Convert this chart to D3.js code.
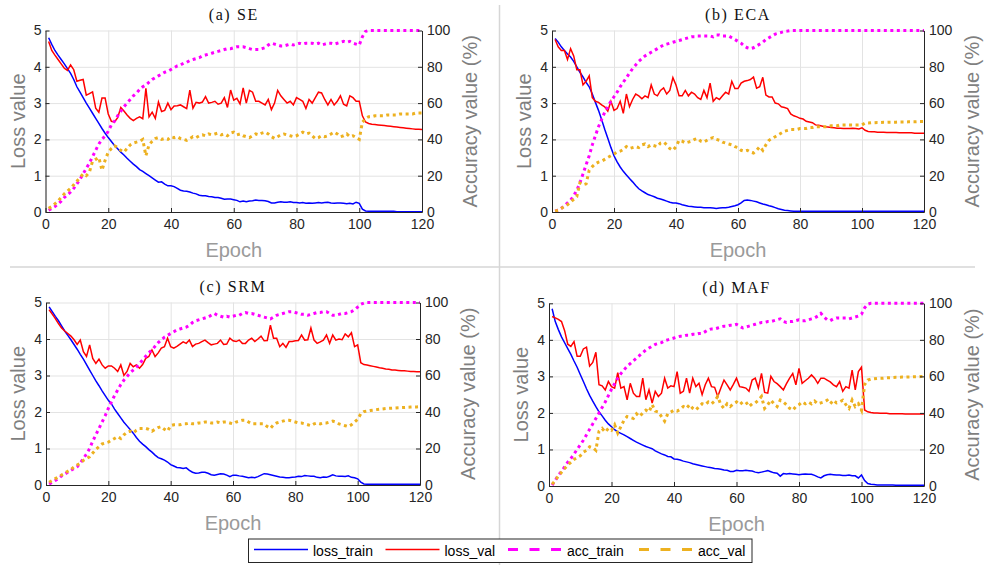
<!DOCTYPE html>
<html>
<head>
<meta charset="utf-8">
<script src="https://cdn.jsdelivr.net/npm/d3@7"></script>
<style>
  body { margin: 0; background: #fff; }
  svg { display: block; }
</style>
</head>
<body>
<script>
const wid = 984, hei = 565;

// epochs 1..120
const epochs = d3.range(1, 121);
const xTicks = [0, 20, 40, 60, 80, 100, 120];
const lossTicks = [0, 1, 2, 3, 4, 5];
const accTicks = [0, 20, 40, 60, 80, 100];
const titles = ['(a) SE', '(b) ECA', '(c) SRM', '(d) MAF'];
const seriesNames = ['loss_train', 'loss_val', 'acc_train', 'acc_val'];

// (a) SE
const lossTrainSE = [4.80,4.62,4.45,4.32,4.20,4.08,3.95,3.82,3.65,3.45,
  3.30,3.15,3.00,2.86,2.72,2.58,2.44,2.30,2.17,2.05,
  1.94,1.83,1.74,1.65,1.57,1.48,1.40,1.32,1.25,1.17,
  1.12,1.06,1.00,0.94,0.88,0.82,0.83,0.77,0.72,0.72,
  0.70,0.65,0.60,0.58,0.57,0.55,0.52,0.50,0.46,0.45,
  0.45,0.43,0.42,0.40,0.40,0.38,0.35,0.36,0.36,0.34,
  0.32,0.28,0.30,0.28,0.30,0.31,0.33,0.32,0.32,0.31,
  0.29,0.25,0.25,0.27,0.28,0.27,0.27,0.28,0.26,0.26,
  0.25,0.26,0.24,0.25,0.24,0.25,0.26,0.25,0.26,0.27,
  0.25,0.24,0.25,0.25,0.24,0.23,0.24,0.22,0.27,0.24,
  0.08,0.03,0.02,0.02,0.02,0.02,0.02,0.02,0.02,0.02,
  0.02,0.01,0.01,0.01,0.01,0.01,0.01,0.01,0.01,0.01];
const lossValSE = [4.70,4.45,4.32,4.20,4.08,3.96,3.90,4.05,3.92,3.60,
  3.63,3.65,3.22,3.26,3.31,2.86,2.75,3.14,3.14,2.70,
  2.50,2.48,2.60,2.88,2.78,2.67,2.58,2.52,2.58,2.62,
  2.57,3.41,2.62,2.75,2.58,3.03,2.77,2.80,3.00,2.82,
  2.92,2.93,2.95,2.90,2.85,3.36,2.86,3.02,3.00,3.03,
  3.18,3.00,3.02,3.05,2.97,3.00,3.15,2.88,3.36,3.08,
  3.13,2.98,3.42,3.00,3.35,3.30,3.05,3.05,3.00,2.95,
  3.10,2.82,3.00,3.35,3.20,3.10,3.00,3.05,2.95,3.15,
  3.10,3.05,2.85,3.10,3.00,3.15,3.30,3.28,3.10,2.95,
  3.10,2.95,3.05,3.20,2.97,2.92,3.20,3.15,3.05,3.05,
  2.65,2.48,2.44,2.42,2.41,2.40,2.39,2.38,2.37,2.36,
  2.35,2.34,2.33,2.32,2.31,2.30,2.29,2.28,2.28,2.27];
const accTrainSE = [1,2,3,4.5,6,8,9.5,11,13,15.5,
  18,21,24,27,30.5,34,37.5,40,42,44.5,
  48,50,53,55.5,58,60,62,64,65.5,67.5,
  69,70,71.5,73,74,75,76,77,77.5,78.5,
  79.5,80.5,81,82,82.5,83.5,84,84.5,85,86,
  86.5,87,87.5,88,88.5,89,89.5,90,90,90.5,
  91,91,91,90.5,90,89.5,89.5,89.5,90,90.5,
  92,93,92.5,92,91.5,91.5,92,92.5,92,92.5,
  93,92.5,93,93,93,92.5,93,92,92.5,93,
  93,92.5,93,93.5,94,93.5,94,93,92.5,92,
  96.5,99.5,100,100,100,100,100,100,100,100,
  100,100,100,100,100,100,100,100,100,100];
const accValSE = [2,3,4.5,6,8,10,11.5,13,15,17,
  19,21,20,22,28,29,30,23,28.5,33,
  35,36.5,35.5,34,33,35,37,38,38.5,39,
  40,31,37,39,40.5,41,40,40.5,40,41.5,
  41,41.5,40.5,40,39.5,40.5,41.5,41,42,42.5,
  42,43,42.5,43,43.5,42.5,43,42,43.5,44,
  42.5,43,42,41.5,41,42,43,42.5,43.5,44,
  43,41.5,40.5,41.5,42.5,43,42.5,42,41.5,42,
  43,44,43,43.5,42,40.5,41,42,41.5,42,
  43,44,43,41.5,42,43,41.5,42,41,40,
  49.5,51.5,52.5,52.5,53,53,53,53,53.5,53.5,
  53.5,53.5,54,54,54,54,54,54.5,54.5,54.5];

// (b) ECA
const lossTrainECA = [4.78,4.68,4.55,4.45,4.35,4.27,4.15,4.00,3.85,3.72,
  3.57,3.45,3.25,3.02,2.80,2.55,2.28,2.03,1.78,1.55,
  1.38,1.24,1.12,1.02,0.92,0.83,0.73,0.64,0.58,0.53,
  0.48,0.45,0.42,0.38,0.36,0.33,0.30,0.27,0.25,0.25,
  0.23,0.20,0.18,0.16,0.15,0.14,0.13,0.13,0.12,0.12,
  0.12,0.11,0.10,0.11,0.12,0.12,0.13,0.15,0.17,0.20,
  0.25,0.32,0.33,0.32,0.30,0.28,0.25,0.22,0.20,0.17,
  0.15,0.12,0.09,0.07,0.05,0.04,0.03,0.02,0.02,0.02,
  0.02,0.02,0.02,0.02,0.02,0.02,0.02,0.02,0.02,0.02,
  0.02,0.02,0.02,0.02,0.02,0.02,0.02,0.02,0.02,0.02,
  0.02,0.02,0.02,0.02,0.02,0.02,0.02,0.02,0.02,0.02,
  0.02,0.02,0.02,0.02,0.02,0.02,0.02,0.02,0.02,0.02];
const lossValECA = [4.75,4.55,4.45,4.45,4.20,4.50,4.30,3.92,3.92,3.50,
  3.60,3.75,3.15,3.05,3.02,2.95,2.90,2.78,3.05,2.80,
  2.85,3.05,2.72,3.25,2.90,3.10,3.25,3.20,3.12,3.20,
  3.15,3.50,3.25,3.20,3.35,3.42,3.25,3.35,3.70,3.50,
  3.20,3.20,3.35,3.20,3.30,3.25,3.15,3.10,3.35,3.15,
  3.55,3.05,3.15,3.10,3.20,3.30,3.25,3.60,3.40,3.40,
  3.55,3.60,3.62,3.65,3.72,3.41,3.45,3.71,3.22,3.17,
  3.17,3.00,2.98,2.90,2.88,2.85,2.70,2.65,2.62,2.58,
  2.56,2.50,2.48,2.46,2.40,2.39,2.37,2.35,2.34,2.33,
  2.32,2.31,2.31,2.30,2.30,2.30,2.31,2.30,2.29,2.32,
  2.25,2.22,2.21,2.21,2.20,2.20,2.20,2.19,2.19,2.19,
  2.19,2.18,2.18,2.18,2.18,2.18,2.17,2.17,2.17,2.17];
const accTrainECA = [0.5,1,2,3.5,5,6.5,9,12,16,21,
  26,31,37,42,47,51,55,58,61,63.5,
  66,69,71.5,74,76.5,79,81,83,84.5,86,
  87,88,89,90,91,92,92.5,93,93.5,94,
  94.5,95,95.5,96,96.5,96.5,97,97,97,97,
  97,96.5,97.5,97.5,97,97,97,96,95,94,
  93,91.5,90.5,90,90.5,91.5,92.5,93.5,95,96,
  97,98,98.5,99,99.5,99.7,100,100,100,100,
  100,100,100,100,100,100,100,100,100,100,
  100,100,100,100,100,100,100,100,100,100,
  100,100,100,100,100,100,100,100,100,100,
  100,100,100,100,100,100,100,100,100,100];
const accValECA = [0.5,1,2,3,4,5.5,7,8.5,16,15,
  15.5,23,25,26.5,27.5,28,29,30,31,32,
  33,33.5,34.5,36,35,35.5,36,35.5,37,37.5,
  36,37,36.5,36,38,38.5,37,35,34,36,
  39.5,39,38,38.5,39,40,40.5,39,38.5,39.5,
  40.5,41,40,39.5,38.5,38,37.5,37,36,35.5,
  34,33.5,34,33,32.5,34,36,34,37,39.5,
  40.5,41.5,42.5,43.5,44.5,45,45.5,45.5,45.5,46,
  46,46,46.5,46.5,47,47,47,47,47,47.5,
  47.5,47.5,48,48,48,48,48,48,48,48,
  49,49,49.2,49.2,49.3,49.3,49.4,49.4,49.5,49.5,
  49.5,49.6,49.6,49.6,49.7,49.7,49.7,49.8,49.8,49.8];

// (c) SRM
const lossTrainSRM = [4.88,4.75,4.62,4.50,4.36,4.22,4.10,3.98,3.85,3.72,
  3.58,3.45,3.30,3.15,3.00,2.85,2.72,2.58,2.45,2.32,
  2.22,2.08,1.96,1.84,1.72,1.62,1.52,1.42,1.30,1.20,
  1.12,1.05,0.97,0.90,0.82,0.75,0.72,0.68,0.63,0.56,
  0.52,0.48,0.47,0.45,0.47,0.40,0.35,0.32,0.33,0.35,
  0.35,0.32,0.28,0.27,0.29,0.31,0.30,0.27,0.23,0.27,
  0.27,0.25,0.24,0.22,0.20,0.21,0.20,0.23,0.27,0.31,
  0.30,0.28,0.26,0.24,0.22,0.21,0.20,0.20,0.21,0.22,
  0.24,0.23,0.26,0.25,0.24,0.24,0.21,0.20,0.22,0.21,
  0.24,0.28,0.25,0.24,0.24,0.23,0.25,0.21,0.20,0.17,
  0.08,0.03,0.02,0.02,0.02,0.02,0.02,0.02,0.02,0.02,
  0.02,0.02,0.02,0.02,0.02,0.02,0.02,0.02,0.02,0.02];
const lossValSRM = [4.80,4.68,4.56,4.42,4.30,4.22,4.15,4.08,3.98,3.85,
  3.97,3.65,3.52,3.84,3.47,3.33,3.45,3.29,3.20,3.26,
  3.26,3.20,3.11,3.29,3.00,3.11,3.33,3.24,3.29,3.20,
  3.30,3.47,3.52,3.70,3.52,3.62,3.75,3.79,4.02,3.79,
  3.75,3.80,3.86,3.92,3.88,3.97,3.79,3.86,3.88,3.93,
  3.97,3.90,3.84,3.86,3.88,3.97,3.85,3.86,4.02,3.95,
  3.93,3.97,3.88,3.88,3.97,4.02,3.93,4.00,4.08,3.95,
  3.96,4.38,4.02,4.02,3.79,3.88,3.77,3.93,3.93,3.95,
  3.96,4.11,3.97,3.98,4.30,3.97,3.88,3.92,3.97,4.11,
  3.88,4.11,3.97,4.00,3.98,4.14,4.06,4.17,3.79,3.84,
  3.35,3.30,3.29,3.27,3.25,3.23,3.21,3.20,3.18,3.17,
  3.15,3.15,3.14,3.13,3.13,3.12,3.11,3.11,3.10,3.10];
const accTrainSRM = [0.5,1.5,2.5,3.5,5,6,7,8,9,10,
  12,14.5,17,20,24,27.5,31,34.5,38,42,
  45.5,49,52,55,57.5,59.5,61.5,63,64.5,66.5,
  68.5,70.5,72.5,74,76,78,79.5,81,82,83,
  84,85,85.5,86,86.5,87.5,89,90,90.5,91,
  91.5,92,93,94,93,92.5,92,92.5,92,92.5,
  93,93,94,94.5,94,94,93.5,93,92.5,92,
  91.5,91,92,93,93.5,94,94.5,95,95,94.5,
  94,93.5,93.5,93,93.5,94,94.5,94.5,95,95,
  94,93,93,93.5,94,94,94.5,95,96,97.5,
  99,99.7,100,100,100,100,100,100,100,100,
  100,100,100,100,100,100,100,100,100,100];
const accValSRM = [1.5,2.5,3.5,4.5,5.5,6.5,7.5,8.5,10,11,
  12,13.5,14.5,15.5,17.5,19.5,21,22.5,23,23.5,
  24.5,25.5,26.5,25.5,27.5,29,29.5,28.5,30,31,
  31,31,30.5,29.5,30.5,31.5,32,30.5,29.5,32.5,
  33,33,33,33.5,33.5,34,33.5,33.5,34,34,
  34.5,34.5,34,34,34.5,34,34.5,34.5,34,33.5,
  34.5,35,35.5,35.5,34.5,33.5,33.5,33.5,33.5,33.5,
  32,31,33,34,34.5,35,35.5,35.5,35,34.5,
  34,34,33.5,33,32.5,33.5,34,33.5,34,34,
  34.5,35,34.5,33.5,33,32.5,32,33,34.5,36,
  39,40.2,40.5,40.8,41,41.3,41.5,41.7,41.9,42,
  42.1,42.2,42.3,42.4,42.5,42.6,42.7,42.8,42.8,42.9];

// (d) MAF
const lossTrainMAF = [4.85,4.50,4.28,4.08,3.92,3.76,3.60,3.42,3.25,3.05,
  2.86,2.66,2.48,2.32,2.17,2.03,1.92,1.80,1.70,1.62,
  1.54,1.48,1.44,1.40,1.35,1.30,1.25,1.20,1.16,1.12,
  1.08,1.05,1.02,0.96,0.92,0.88,0.85,0.81,0.80,0.74,
  0.73,0.71,0.68,0.66,0.64,0.61,0.59,0.57,0.55,0.53,
  0.51,0.50,0.48,0.47,0.46,0.44,0.43,0.40,0.40,0.43,
  0.42,0.42,0.43,0.42,0.41,0.38,0.36,0.38,0.40,0.42,
  0.39,0.36,0.35,0.27,0.34,0.33,0.34,0.33,0.32,0.31,
  0.32,0.33,0.32,0.32,0.29,0.25,0.22,0.28,0.31,0.32,
  0.31,0.30,0.30,0.29,0.29,0.30,0.28,0.28,0.22,0.30,
  0.15,0.07,0.05,0.04,0.03,0.03,0.03,0.03,0.03,0.03,
  0.02,0.02,0.02,0.02,0.02,0.02,0.02,0.02,0.02,0.02];
const lossValMAF = [4.64,4.60,4.56,4.50,4.25,3.88,3.82,3.95,3.55,3.55,
  3.75,3.80,3.28,3.38,3.66,2.77,2.74,2.63,2.86,2.72,
  2.68,3.10,2.68,2.72,2.36,2.81,2.54,2.45,2.45,2.95,
  2.36,2.63,2.27,2.59,2.45,2.54,2.95,2.68,2.74,2.72,
  3.13,2.54,2.59,2.95,2.54,2.95,2.72,2.81,2.50,2.77,
  2.95,2.72,2.70,2.45,2.68,2.90,2.77,2.63,2.78,2.95,
  2.72,2.70,2.68,2.59,2.90,2.95,2.68,3.08,2.56,2.54,
  3.00,2.86,2.80,2.72,2.63,2.80,2.95,3.08,2.77,3.22,
  2.81,2.88,2.95,3.04,2.95,2.81,2.95,2.95,2.90,2.85,
  2.77,2.72,2.86,2.59,2.72,2.68,3.17,2.63,3.13,3.25,
  2.08,2.03,2.01,2.00,2.00,1.99,1.99,1.99,1.98,1.98,
  1.98,1.98,1.98,1.97,1.97,1.97,1.97,1.97,1.97,1.97];
const accTrainMAF = [0.5,3,6,8,10.5,13,15,17.5,20,22.5,
  25,28,31,34,37,40,43,46,49.5,53,
  56,59,61.5,63.5,65.5,67,68.5,70,71.5,73,
  74.5,75.5,76.5,77.5,78,78.5,79.5,80,80.5,81,
  81.5,82,82,82.5,82.5,83,83,83.5,83.5,84.5,
  85.5,86,86,86.5,87,87.5,87.5,88,88,88.5,
  87.5,86.5,87,87.5,88,88.5,89,89.5,89.5,90,
  90,90.5,91,91.5,90,89.5,90,90,90.5,91,
  90.5,90.5,91,91.5,92,93,94.5,92.5,91,90.5,
  91.5,92,92,92,92,91.5,92,92.5,93,94,
  97.5,99.5,100,100,100,100,100,100,100,100,
  100,100,100,100,100,100,100,100,100,100];
const accValMAF = [1,3,5.5,7.5,9.5,11.5,13,14.5,15.5,16.5,
  18.5,19.5,21.5,21,19.5,30,31.5,29.5,31.5,30.5,
  33.5,29,32.5,36,38,37.5,37,39.5,38,40,
  41.5,40.5,44.5,41,40.5,38,35.5,39.5,40.5,41.5,
  41,42,43.5,42.5,44.5,42.5,41.5,43.5,45,44.5,
  46,45,46.5,49,44.5,42.5,45,43.5,45,46,
  44.5,46,46,43.5,45,45.5,47,49,42.5,44.5,
  47,45,43.5,47,46,44.5,42.5,41.5,43.5,44.5,
  46,45,46,45,46.5,45,45.5,46,47,45,
  47,45.5,46,47,44.5,42.5,47,43.5,45,41.5,
  55.5,58,58.5,58.7,58.9,59,59,59.2,59.3,59.4,
  59.5,59.5,59.6,59.6,59.7,59.7,59.8,59.8,59.9,59.9];

const lossTrain = [lossTrainSE, lossTrainECA, lossTrainSRM, lossTrainMAF];
const lossVal = [lossValSE, lossValECA, lossValSRM, lossValMAF];
const accTrain = [accTrainSE, accTrainECA, accTrainSRM, accTrainMAF];
const accVal = [accValSE, accValECA, accValSRM, accValMAF];

// plot boxes
const boxes = [
  {x0: 45.5, x1: 422, y0: 30.5, y1: 212},
  {x0: 552, x1: 924, y0: 30.5, y1: 212},
  {x0: 46, x1: 420, y0: 302.5, y1: 485},
  {x0: 549, x1: 924, y0: 303.3, y1: 486}
];

const colors = {loss_train: '#0000ff', loss_val: '#ff0000', acc_train: '#ff00ff', acc_val: '#edb120'};
const sans = 'Liberation Sans, Arial, sans-serif';

let svg = d3.select('body').append('svg')
  .attr('width', wid).attr('height', hei);

// separators
svg.append('line').attr('x1', 10).attr('x2', 975).attr('y1', 267).attr('y2', 267)
  .attr('stroke', '#d6d6d6').attr('stroke-width', 1.5);
svg.append('line').attr('x1', 499.5).attr('x2', 499.5).attr('y1', 5).attr('y2', 565)
  .attr('stroke', '#d6d6d6').attr('stroke-width', 1.5);

boxes.forEach((b, i) => {
  let x = d3.scaleLinear().domain([0, 120]).range([b.x0, b.x1]);
  let yL = d3.scaleLinear().domain([0, 5]).range([b.y1, b.y0]);
  let yR = d3.scaleLinear().domain([0, 100]).range([b.y1, b.y0]);
  let g = svg.append('g');

  // grid
  g.append('g').attr('transform', `translate(0,${b.y1})`)
    .call(d3.axisBottom(x).tickValues(xTicks).tickSize(-(b.y1 - b.y0)).tickFormat(''))
    .call(s => s.select('.domain').remove())
    .selectAll('line').attr('stroke', '#e3e3e3');
  g.append('g').attr('transform', `translate(${b.x0},0)`)
    .call(d3.axisLeft(yL).tickValues(lossTicks).tickSize(-(b.x1 - b.x0)).tickFormat(''))
    .call(s => s.select('.domain').remove())
    .selectAll('line').attr('stroke', '#e3e3e3');

  // lines
  let lineL = d3.line().x((d, k) => x(epochs[k])).y(d => yL(d));
  let lineR = d3.line().x((d, k) => x(epochs[k])).y(d => yR(d));
  g.append('path').datum(lossTrain[i]).attr('d', lineL)
    .attr('fill', 'none').attr('stroke', colors.loss_train).attr('stroke-width', 1.5);
  g.append('path').datum(lossVal[i]).attr('d', lineL)
    .attr('fill', 'none').attr('stroke', colors.loss_val).attr('stroke-width', 1.5);
  g.append('path').datum(accTrain[i]).attr('d', lineR)
    .attr('fill', 'none').attr('stroke', colors.acc_train).attr('stroke-width', 3)
    .attr('stroke-dasharray', '3,3.5');
  g.append('path').datum(accVal[i]).attr('d', lineR)
    .attr('fill', 'none').attr('stroke', colors.acc_val).attr('stroke-width', 3)
    .attr('stroke-dasharray', '3,3.5');

  // axes
  let styleAxis = s => {
    s.select('.domain').attr('stroke', '#262626');
    s.selectAll('.tick line').attr('stroke', '#262626');
    s.selectAll('text').attr('font-family', sans).attr('font-size', 14).attr('fill', '#262626');
  };
  let fmt = d3.format('d');
  g.append('g').attr('transform', `translate(0,${b.y1})`)
    .call(d3.axisBottom(x).tickValues(xTicks).tickFormat(fmt)
      .tickSizeInner(-4).tickSizeOuter(0).tickPadding(7))
    .call(styleAxis);
  g.append('g').attr('transform', `translate(${b.x0},0)`)
    .call(d3.axisLeft(yL).tickValues(lossTicks).tickFormat(fmt)
      .tickSizeInner(-4).tickSizeOuter(0).tickPadding(4))
    .call(styleAxis);
  g.append('g').attr('transform', `translate(${b.x1},0)`)
    .call(d3.axisRight(yR).tickValues(accTicks).tickFormat(fmt)
      .tickSizeInner(-4).tickSizeOuter(0).tickPadding(5))
    .call(styleAxis);

  // labels
  let cx = (b.x0 + b.x1) / 2, cy = (b.y0 + b.y1) / 2;
  g.append('text').text(titles[i])
    .attr('x', cx).attr('y', b.y0 - 10.5).attr('text-anchor', 'middle')
    .attr('font-family', 'Liberation Serif, Times New Roman, serif').attr('font-size', 16)
    .attr('letter-spacing', 1.6).attr('fill', '#111');
  g.append('text').text('Epoch')
    .attr('x', cx).attr('y', b.y1 + 45).attr('text-anchor', 'middle')
    .attr('font-family', sans).attr('font-size', 20).attr('fill', '#9a9a9a');
  g.append('text').text('Loss value')
    .attr('transform', `translate(${b.x0 - 28},${cy}) rotate(-90)`)
    .attr('text-anchor', 'middle').attr('dominant-baseline', 'central')
    .attr('font-family', sans).attr('font-size', 20).attr('fill', '#7f7f7f');
  g.append('text').text('Accuracy value (%)')
    .attr('transform', `translate(${b.x1 + 48},${cy}) rotate(-90)`)
    .attr('text-anchor', 'middle').attr('dominant-baseline', 'central')
    .attr('font-family', sans).attr('font-size', 20).attr('fill', '#7f7f7f');
});

// legend
let lg = svg.append('g');
lg.append('rect').attr('x', 248.5).attr('y', 539).attr('width', 503.5).attr('height', 23.5)
  .attr('fill', '#fff').attr('stroke', '#262626').attr('stroke-width', 1);
const legX = [254, 385.5, 508, 639];
seriesNames.forEach((n, k) => {
  let dashed = k >= 2;
  lg.append('line').attr('x1', legX[k]).attr('x2', legX[k] + 54)
    .attr('y1', 549.5).attr('y2', 549.5)
    .attr('stroke', colors[n]).attr('stroke-width', dashed ? 3 : 1.5)
    .attr('stroke-dasharray', dashed ? '10,11.5' : null);
  lg.append('text').text(n).attr('x', legX[k] + 59).attr('y', 555.5)
    .attr('font-family', sans).attr('font-size', 14).attr('fill', '#000');
});
</script>
</body>
</html>
